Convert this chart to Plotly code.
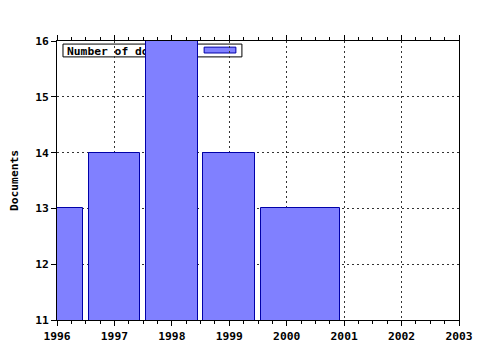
import plotly.graph_objects as go

years = [1996, 1997, 1998, 1999, 2000]
documents = [13, 14, 16, 14, 13]
bar_starts = [1995.55, 1996.55, 1997.55, 1998.55, 1999.55]
bar_ends = [1996.45, 1997.45, 1998.45, 1999.45, 2000.92]
x_ticks = [1996, 1997, 1998, 1999, 2000, 2001, 2002, 2003]
y_ticks = [11, 12, 13, 14, 15, 16]
series_name = "Number of documents"

FONT = "DejaVu Sans Mono"
FS = 11.3
centers = [(s + e) / 2 for s, e in zip(bar_starts, bar_ends)]
widths = [e - s for s, e in zip(bar_starts, bar_ends)]

fig = go.Figure()
fig.add_trace(go.Bar(
    x=centers, y=documents, width=widths, name=series_name,
    marker=dict(color="#8080FF", line=dict(color="#0000A8", width=1)),
    showlegend=False,
))

axis_common = dict(
    showline=True, linecolor="black", linewidth=1,
    ticks="outside", ticklen=5, tickcolor="black", tickwidth=1,
    showgrid=True, gridcolor="#333333", griddash="2px,3px", gridwidth=1,
    zeroline=False, automargin=False,
    tickfont=dict(family=FONT, size=FS, color="black", weight="bold"),
)

fig.update_xaxes(
    range=[1996, 2003], tickvals=x_ticks, ticktext=[str(v) for v in x_ticks],
    mirror="allticks",
    minor=dict(dtick=0.25, tick0=1996, ticks="outside", ticklen=3,
               tickcolor="black", showgrid=False),
    **axis_common,
)
fig.update_yaxes(
    range=[11, 16], tickvals=y_ticks, ticktext=[str(v) for v in y_ticks],
    mirror=True,
    title=dict(text="Documents", font=dict(family=FONT, size=FS, color="black", weight="bold"),
               standoff=14),
    **axis_common,
)

# legend drawn beneath bars
fig.add_shape(type="rect", xref="paper", yref="paper",
              x0=0.0149, x1=0.460, y0=0.943, y1=0.989, layer="below",
              fillcolor="white", line=dict(color="black", width=1),
              label=dict(text=series_name, textposition="middle left", padding=1,
                         font=dict(family=FONT, size=FS, color="black", weight="bold")))
fig.add_shape(type="rect", xref="paper", yref="paper",
              x0=0.366, x1=0.445, y0=0.957, y1=0.978, layer="below",
              fillcolor="#8080FF", line=dict(color="#0000A8", width=1))

fig.update_layout(
    width=480, height=350,
    margin=dict(l=57, r=21, t=41, b=30),
    paper_bgcolor="white", plot_bgcolor="white",
    bargap=0,
    font=dict(family=FONT, size=FS, color="black"),
)

fig.write_html("out.html")
